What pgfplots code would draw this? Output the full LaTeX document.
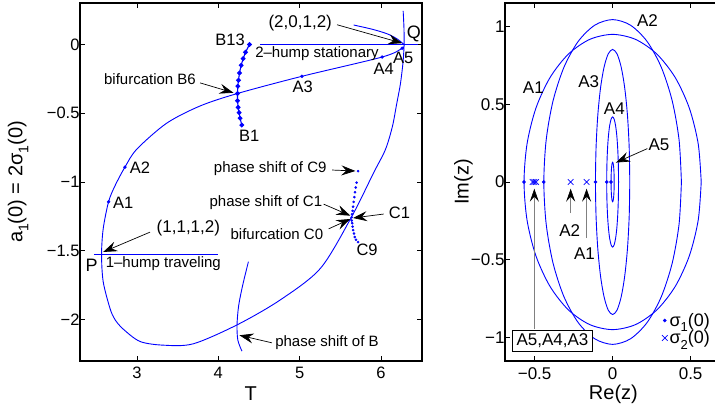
\documentclass[border=0pt]{standalone}
\usepackage{pgfplots}
\pgfplotsset{compat=1.18}
\usepackage{fontspec}
\setmainfont{Liberation Sans}
\usetikzlibrary{arrows.meta}
\newcommand{\fs}[1]{\fontsize{#1}{#1}\selectfont}
\newcommand{\sub}[2]{\raisebox{-0.3em}{\fontsize{#1}{#1}\selectfont #2}}
\pgfplotsset{mylegimg/.style={legend image code/.code={\draw[##1] plot coordinates {(0.15cm,0cm)};}}}
\begin{document}
\begin{tikzpicture}
\pgfplotsset{
  mybox/.style={scale only axis, axis line style={line width=1.8pt},
    tick align=inside, major tick length=5pt,
    every tick/.style={black,line width=0.9pt},
    /pgf/number format/assume math mode=true, clip=true},
}
\tikzset{arr/.style={line width=0.7pt,-{Stealth[length=14pt,width=10pt,inset=5pt]}}}
% ---------------- left panel ----------------
\begin{axis}[mybox,
  at={(80pt,48.3pt)}, anchor=south west,
  width=341.7pt, height=357.4pt,
  xmin=2.3, xmax=6.5, ymin=-2.3, ymax=0.3,
  xtick={3,4,5,6},
  ytick={-2,-1.5,-1,-0.5,0}, yticklabels={−2,−1.5,−1,−0.5,0},
  tick label style={font=\fs{16.5}},
  xticklabel style={yshift=-3pt},
  yticklabel style={xshift=3pt},
  xlabel={T}, ylabel={a\sub{14}{1}(0) = 2σ\sub{14}{1}(0)},
  label style={font=\fs{20}},
  xlabel style={at={(axis description cs:0.5,-0.091)}, anchor=center},
  ylabel style={at={(axis description cs:-0.181,0.5)}, anchor=center},
]
% main loop
\addplot[blue, line width=0.9pt, smooth] coordinates {
(6.272,0.245) (6.282,0.12) (6.283,0) (6.272,-0.12) (6.239,-0.283) (6.19,-0.44)
(6.14,-0.596) (6.054,-0.764) (5.91,-0.932) (5.635,-1.257) (5.254,-1.629)
(4.761,-1.858) (4.235,-2.038) (3.693,-2.177) (3.324,-2.187) (3.037,-2.16)
(2.831,-2.07) (2.729,-2.0) (2.668,-1.918) (2.585,-1.725) (2.565,-1.528)
(2.585,-1.341) (2.651,-1.144) (2.729,-1.029) (2.852,-0.892) (3.0,-0.76)
(3.366,-0.572) (3.776,-0.447) (4.236,-0.356) (5.028,-0.231) (6.013,-0.091)
(6.26,-0.027) (6.283,0)};
% (2,0,1,2) branch
\addplot[blue, line width=0.9pt, smooth] coordinates {
(5.664,0.142) (5.9,0.11) (6.08,0.077) (6.2,0.04) (6.283,0)};
% 2-hump stationary
\addplot[blue, line width=0.9pt] coordinates {(4.51,0) (6.46,0)};
% 1-hump traveling
\addplot[blue, line width=0.9pt] coordinates {(2.47,-1.528) (4.0,-1.528)};
% phase shift of B
\addplot[blue, line width=0.9pt, smooth] coordinates {
(4.37,-1.58) (4.30,-1.75) (4.25,-1.9) (4.23,-2.04) (4.24,-2.15) (4.29,-2.23)};
% B family
\addplot[blue, line width=1.1pt, mark=*, mark size=1.8pt] coordinates {
(4.289,-0.586) (4.268,-0.536) (4.256,-0.495) (4.244,-0.457) (4.236,-0.409)
(4.236,-0.356) (4.240,-0.303) (4.248,-0.260) (4.260,-0.207) (4.281,-0.151)
(4.305,-0.103) (4.334,-0.056) (4.383,0.0)};
% C family
\addplot[blue, only marks, mark=*, mark size=1.1pt] coordinates {
(5.718,-0.921) (5.700,-1.005) (5.690,-1.04) (5.680,-1.075) (5.672,-1.11)
(5.664,-1.145) (5.657,-1.18) (5.650,-1.21) (5.644,-1.235) (5.639,-1.257)
(5.641,-1.28) (5.645,-1.30) (5.651,-1.325) (5.658,-1.35) (5.667,-1.375)
(5.678,-1.40) (5.693,-1.42) (5.718,-1.437)};
% A points
\addplot[blue, only marks, mark=*, mark size=1.5pt] coordinates {
(2.651,-1.144) (2.852,-0.892) (5.028,-0.231) (6.013,-0.091) (6.26,-0.027)};
% labels
\node[font=\fs{17}] at (axis cs:5.007,0.154) {(2,0,1,2)};
\draw[arr] (axis cs:5.459,0.144) -- (axis cs:6.26,0.01);
\node[font=\fs{18}] at (axis cs:6.403,0.077) {Q};
\node[font=\fs{16.5}] at (axis cs:4.145,0.036) {B13};
\node[font=\fs{15}] at (axis cs:5.213,-0.067) {2–hump stationary};
\node[font=\fs{16.5}] at (axis cs:6.274,-0.097) {A5};
\node[font=\fs{16.5}] at (axis cs:6.034,-0.175) {A4};
\node[font=\fs{16.5}] at (axis cs:5.038,-0.308) {A3};
\node[font=\fs{16.5}] at (axis cs:4.379,-0.662) {B1};
\node[font=\fs{15}] at (axis cs:3.16,-0.252) {bifurcation B6};
\draw[arr] (axis cs:3.776,-0.279) -- (axis cs:4.186,-0.351);
\node[font=\fs{16.5}] at (axis cs:3.037,-0.896) {A2};
\node[font=\fs{16.5}] at (axis cs:2.831,-1.149) {A1};
\node[font=\fs{17}] at (axis cs:3.632,-1.336) {(1,1,1,2)};
\draw[arr] (axis cs:3.16,-1.365) -- (axis cs:2.585,-1.509);
\node[font=\fs{18}] at (axis cs:2.442,-1.606) {P};
\node[font=\fs{15}] at (axis cs:3.324,-1.593) {1–hump traveling};
\node[font=\fs{15}] at (axis cs:4.638,-0.904) {phase shift of C9};
\draw[arr] (axis cs:5.398,-0.913) -- (axis cs:5.685,-0.92);
\node[font=\fs{15}] at (axis cs:4.585,-1.149) {phase shift of C1};
\draw[arr] (axis cs:5.294,-1.161) -- (axis cs:5.623,-1.245);
\node[font=\fs{15}] at (axis cs:4.72,-1.377) {bifurcation C0};
\draw[arr] (axis cs:5.356,-1.341) -- (axis cs:5.623,-1.269);
\node[font=\fs{16.5}] at (axis cs:6.227,-1.221) {C1};
\draw[arr] (axis cs:6.033,-1.233) -- (axis cs:5.656,-1.262);
\node[font=\fs{16.5}] at (axis cs:5.829,-1.49) {C9};
\node[font=\fs{15}] at (axis cs:5.336,-2.17) {phase shift of B};
\draw[arr] (axis cs:4.659,-2.17) -- (axis cs:4.26,-2.115);
\end{axis}
% ---------------- right panel ----------------
\begin{axis}[mybox,
  at={(505pt,48.3pt)}, anchor=south west,
  width=216.8pt, height=357.4pt,
  xmin=-0.69, xmax=0.7, ymin=-1.15, ymax=1.15,
  xtick={-0.5,0,0.5}, xticklabels={−0.5,0,0.5},
  ytick={-1,-0.5,0,0.5,1}, yticklabels={−1,−0.5,0,0.5,1},
  tick label style={font=\fs{17}},
  xticklabel style={yshift=-3pt},
  yticklabel style={xshift=3pt},
  xlabel={Re(z)}, ylabel={Im(z)},
  label style={font=\fs{20}},
  xlabel style={at={(axis description cs:0.5,-0.093)}, anchor=center},
  ylabel style={at={(axis description cs:-0.192,0.5)}, anchor=center},
  legend style={draw=none, fill=none, at={(axis cs:0.315,-1.065)}, anchor=south west,
    font=\fs{18}, nodes={font=\fs{18}}, inner sep=0pt, row sep=-1pt, cells={anchor=west}},
]
% A1 ellipse
\addplot[blue, line width=0.9pt, smooth, forget plot] coordinates {
(0.568,0) (0.5486,0.2459) (0.4919,0.475) (0.4016,0.6717) (0.284,0.8227) (0.147,0.9176) (0,0.95)
(-0.147,0.9176) (-0.284,0.8227) (-0.4016,0.6717) (-0.4919,0.475) (-0.5486,0.2459) (-0.568,0)
(-0.5486,-0.2459) (-0.4919,-0.475) (-0.4016,-0.6717) (-0.284,-0.8227) (-0.147,-0.9176) (0,-0.95)
(0.147,-0.9176) (0.284,-0.8227) (0.4016,-0.6717) (0.4919,-0.475) (0.5486,-0.2459) (0.568,0)};
% A2 ellipse
\addplot[blue, line width=0.9pt, smooth, forget plot] coordinates {
(0.441,0) (0.426,0.2705) (0.3819,0.5225) (0.3118,0.7389) (0.2205,0.905) (0.1141,1.0094) (0,1.045)
(-0.1141,1.0094) (-0.2205,0.905) (-0.3118,0.7389) (-0.3819,0.5225) (-0.426,0.2705) (-0.441,0)
(-0.426,-0.2705) (-0.3819,-0.5225) (-0.3118,-0.7389) (-0.2205,-0.905) (-0.1141,-1.0094) (0,-1.045)
(0.1141,-1.0094) (0.2205,-0.905) (0.3118,-0.7389) (0.3819,-0.5225) (0.426,-0.2705) (0.441,0)};
% A3 ellipse
\addplot[blue, line width=0.9pt, smooth, forget plot] coordinates {
(0.11,0) (0.1062,0.2208) (0.0953,0.4265) (0.0778,0.6032) (0.055,0.7387) (0.0285,0.8239) (0,0.853)
(-0.0285,0.8239) (-0.055,0.7387) (-0.0778,0.6032) (-0.0953,0.4265) (-0.1062,0.2208) (-0.11,0)
(-0.1062,-0.2208) (-0.0953,-0.4265) (-0.0778,-0.6032) (-0.055,-0.7387) (-0.0285,-0.8239) (0,-0.853)
(0.0285,-0.8239) (0.055,-0.7387) (0.0778,-0.6032) (0.0953,-0.4265) (0.1062,-0.2208) (0.11,0)};
% A4 ellipse
\addplot[blue, line width=0.9pt, smooth, forget plot] coordinates {
(0.038,0) (0.0367,0.1084) (0.0329,0.2095) (0.0269,0.2963) (0.019,0.3629) (0.0098,0.4047) (0,0.419)
(-0.0098,0.4047) (-0.019,0.3629) (-0.0269,0.2963) (-0.0329,0.2095) (-0.0367,0.1084) (-0.038,0)
(-0.0367,-0.1084) (-0.0329,-0.2095) (-0.0269,-0.2963) (-0.019,-0.3629) (-0.0098,-0.4047) (0,-0.419)
(0.0098,-0.4047) (0.019,-0.3629) (0.0269,-0.2963) (0.0329,-0.2095) (0.0367,-0.1084) (0.038,0)};
% A5 ellipse
\addplot[blue, line width=0.9pt, smooth, forget plot] coordinates {
(0.01,0) (0.0097,0.0329) (0.0087,0.0635) (0.0071,0.0898) (0.005,0.11) (0.0026,0.1227) (0,0.127)
(-0.0026,0.1227) (-0.005,0.11) (-0.0071,0.0898) (-0.0087,0.0635) (-0.0097,0.0329) (-0.01,0)
(-0.0097,-0.0329) (-0.0087,-0.0635) (-0.0071,-0.0898) (-0.005,-0.11) (-0.0026,-0.1227) (0,-0.127)
(0.0026,-0.1227) (0.005,-0.11) (0.0071,-0.0898) (0.0087,-0.0635) (0.0097,-0.0329) (0.01,0)};
% sigma_1 and sigma_2
\addplot[blue, only marks, mark=*, mark size=1.6pt, mylegimg] coordinates {
(-0.568,0) (-0.441,0) (-0.11,0) (-0.038,0) (-0.01,0)};
\addlegendentry{σ\sub{13}{1}(0)}
\addplot[blue, only marks, mark=x, mark size=4pt, line width=0.7pt, mylegimg] coordinates {
(-0.513,0) (-0.502,0) (-0.491,0) (-0.269,0) (-0.167,0)};
\addlegendentry{σ\sub{13}{2}(0)}
% labels
\node[font=\fs{17}] at (axis cs:0.223,1.041) {A2};
\node[font=\fs{17}] at (axis cs:-0.508,0.608) {A1};
\node[font=\fs{17}] at (axis cs:-0.153,0.648) {A3};
\node[font=\fs{17}] at (axis cs:0.011,0.473) {A4};
\node[font=\fs{17}] at (axis cs:0.297,0.243) {A5};
\draw[arr] (axis cs:0.223,0.215) -- (axis cs:0.021,0.125);
\node[font=\fs{17}] at (axis cs:-0.275,-0.311) {A2};
\draw[arr, gray, -{Stealth[length=13pt,width=9pt,inset=5pt,color=black]}] (axis cs:-0.269,-0.201) -- (axis cs:-0.269,-0.043);
\node[font=\fs{17}] at (axis cs:-0.18,-0.461) {A1};
\draw[arr, gray, -{Stealth[length=13pt,width=9pt,inset=5pt,color=black]}] (axis cs:-0.167,-0.362) -- (axis cs:-0.167,-0.043);
\draw[arr, gray, -{Stealth[length=13pt,width=9pt,inset=5pt,color=black]}] (axis cs:-0.502,-0.944) -- (axis cs:-0.502,-0.043);
\node[font=\fs{17}, draw=black, line width=0.6pt, fill=white, inner xsep=4pt, inner ysep=3pt] at (axis cs:-0.386,-1.022) {A5,A4,A3};
\end{axis}
\pgfresetboundingbox
\useasboundingbox (0,0) rectangle (715pt,409pt);
\end{tikzpicture}
\end{document}
